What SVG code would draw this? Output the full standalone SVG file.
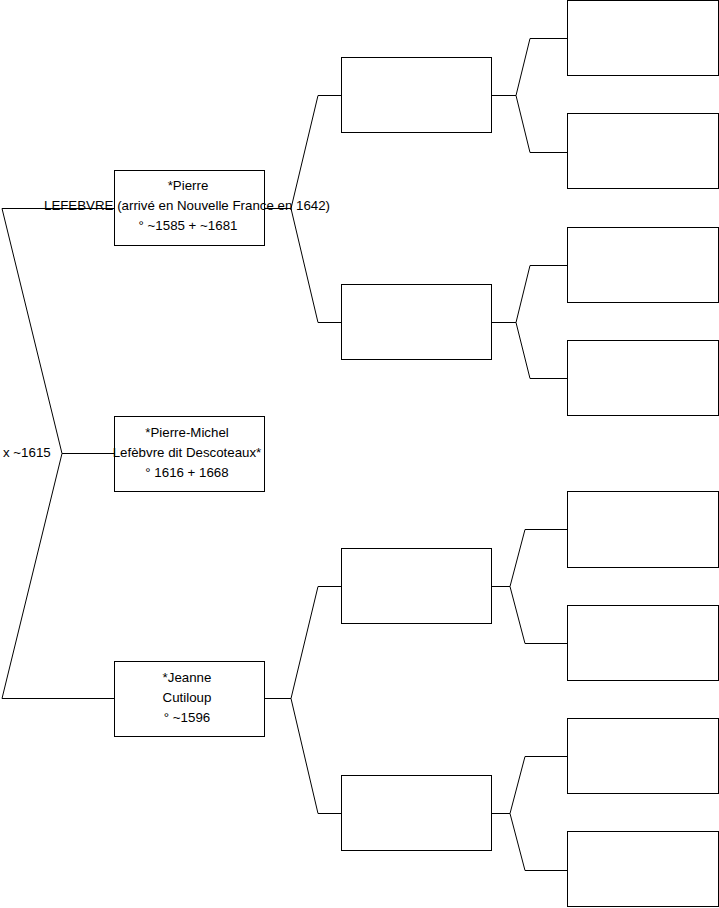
<svg xmlns="http://www.w3.org/2000/svg" width="719" height="908" viewBox="0 0 719 908">
<style>
.box{fill:#fff;stroke:#000;stroke-width:1}
.ln{fill:none;stroke:#000;stroke-width:1}
text{font-family:"Liberation Sans",Arial,sans-serif;font-size:13.3px;fill:#000}
.c{text-anchor:middle}
</style>
<rect width="719" height="908" fill="#fff"/>
<g id="connectors">
<polyline class="ln" points="114,208.5 2,208.5 62,453.5 2,698.5 114,698.5"/>
<line class="ln" x1="62" y1="453.5" x2="114" y2="453.5"/>
<polyline class="ln" points="265,208.5 291,208.5"/>
<polyline class="ln" points="341,95.5 318,95.5 291,208.5 318,322.5 341,322.5"/>
<polyline class="ln" points="265,698.5 291,698.5"/>
<polyline class="ln" points="341,586.5 318,586.5 291,698.5 318,813.5 341,813.5"/>
<polyline class="ln" points="492,95.5 516,95.5"/>
<polyline class="ln" points="567,38.5 530,38.5 516,95.5 530,152.5 567,152.5"/>
<polyline class="ln" points="492,322.5 516,322.5"/>
<polyline class="ln" points="567,265.5 530,265.5 516,322.5 530,378.5 567,378.5"/>
<polyline class="ln" points="492,586.5 510,586.5"/>
<polyline class="ln" points="567,529.5 525,529.5 510,586.5 525,643.5 567,643.5"/>
<polyline class="ln" points="492,813.5 510,813.5"/>
<polyline class="ln" points="567,756.5 525,756.5 510,813.5 525,870.5 567,870.5"/>
</g>
<g id="marriage"><text x="3" y="457">x ~1615</text></g>
<g id="pierre">
<rect class="box" x="114.5" y="170.5" width="150" height="75"/>
<text class="c" x="188" y="190">*Pierre</text>
<text class="c" x="187" y="210">LEFEBVRE (arrivé en Nouvelle France en 1642)</text>
<text class="c" x="188" y="230">° ~1585 + ~1681</text>
</g>
<g id="pierre-michel">
<rect class="box" x="114.5" y="416.5" width="150" height="75"/>
<text class="c" x="187" y="437">*Pierre-Michel</text>
<text class="c" x="187" y="457">Lefèbvre dit Descoteaux*</text>
<text class="c" x="187" y="477">° 1616 + 1668</text>
</g>
<g id="jeanne">
<rect class="box" x="114.5" y="661.5" width="150" height="75"/>
<text class="c" x="187" y="682">*Jeanne</text>
<text class="c" x="187" y="702">Cutiloup</text>
<text class="c" x="187" y="722">° ~1596</text>
</g>
<g id="p1"><rect class="box" x="341.5" y="57.5" width="150" height="75"/></g>
<g id="p2"><rect class="box" x="341.5" y="284.5" width="150" height="75"/></g>
<g id="p3"><rect class="box" x="341.5" y="548.5" width="150" height="75"/></g>
<g id="p4"><rect class="box" x="341.5" y="775.5" width="150" height="75"/></g>
<g id="g1"><rect class="box" x="567.5" y="0.5" width="151" height="75"/></g>
<g id="g2"><rect class="box" x="567.5" y="113.5" width="151" height="75"/></g>
<g id="g3"><rect class="box" x="567.5" y="227.5" width="151" height="75"/></g>
<g id="g4"><rect class="box" x="567.5" y="340.5" width="151" height="75"/></g>
<g id="g5"><rect class="box" x="567.5" y="491.5" width="151" height="76"/></g>
<g id="g6"><rect class="box" x="567.5" y="605.5" width="151" height="75"/></g>
<g id="g7"><rect class="box" x="567.5" y="718.5" width="151" height="75"/></g>
<g id="g8"><rect class="box" x="567.5" y="831.5" width="151" height="75"/></g>
</svg>
